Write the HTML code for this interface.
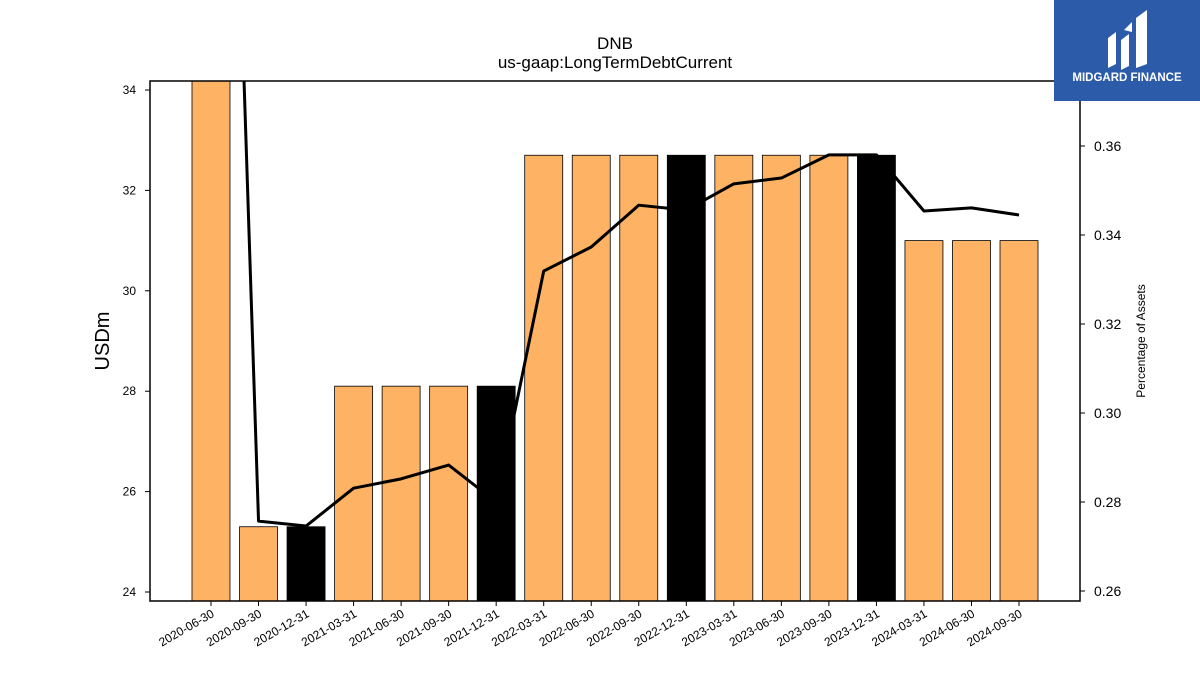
<!DOCTYPE html>
<html><head><meta charset="utf-8"><style>
body{margin:0;background:#fff;font-family:"Liberation Sans","DejaVu Sans",sans-serif;}
#wrap{position:relative;width:1200px;height:675px;overflow:hidden;}
</style></head><body><div id="wrap">
<svg id="chart" width="1200" height="675" xmlns="http://www.w3.org/2000/svg">
<defs><clipPath id="plotclip"><rect x="150" y="81" width="930" height="520"/></clipPath></defs>
<text x="615" y="49" font-size="17" text-anchor="middle">DNB</text>
<text x="615" y="68" font-size="17" text-anchor="middle">us-gaap:LongTermDebtCurrent</text>
<g id="bars" clip-path="url(#plotclip)"></g>
<g id="line" clip-path="url(#plotclip)"></g>
<rect x="150" y="81" width="930" height="520" fill="none" stroke="#000" stroke-width="1.5"/>
<g id="axes"></g>
<text transform="translate(109,341) rotate(-90)" font-size="20" text-anchor="middle">USDm</text>
<text transform="translate(1145,341) rotate(-90)" font-size="12" text-anchor="middle">Percentage of Assets</text>
<g>
<rect x="1054" y="0" width="146" height="101" fill="#2b5ba9"/>
<path d="M1108 68 L1108 38 L1116 32 L1116 64 Z M1121 70 L1121 40 L1129 34 L1129 66 Z M1136 68 L1136 18 L1147 10 L1147 64 Z M1124 30 L1132 22 L1132 32 Z" fill="#fff"/>
<text x="1127" y="81" font-size="11.5" font-weight="bold" fill="#fff" text-anchor="middle">MIDGARD FINANCE</text>
</g>
</svg></div>
<script>
const categories=["2020-06-30","2020-09-30","2020-12-31","2021-03-31","2021-06-30","2021-09-30","2021-12-31","2022-03-31","2022-06-30","2022-09-30","2022-12-31","2023-03-31","2023-06-30","2023-09-30","2023-12-31","2024-03-31","2024-06-30","2024-09-30"];
const debtValues=[35,25.3,25.3,28.1,28.1,28.1,28.1,32.7,32.7,32.7,32.7,32.7,32.7,32.7,32.7,31.0,31.0,31.0];
const pctAssets=[0.6,0.2757,0.2746,0.2831,0.2852,0.2883,0.28,0.3319,0.3373,0.3467,0.3456,0.3515,0.3528,0.358,0.358,0.3454,0.3461,0.3445];
const leftTicks=[24,26,28,30,32,34];
const rightTicks=[0.26,0.28,0.30,0.32,0.34,0.36];
const NS="http://www.w3.org/2000/svg";
function yL(v){return 592-(v-24)*50.2;}
function yR(v){return 591-(v-0.26)*4450;}
function xC(i){return 211+i*47.53;}
function mk(t,a,p){const e=document.createElementNS(NS,t);for(const k in a)e.setAttribute(k,a[k]);p.appendChild(e);return e;}
const bars=document.getElementById('bars'),line=document.getElementById('line'),axes=document.getElementById('axes');
categories.forEach((c,i)=>{
 const yr=c.endsWith('12-31');
 const r=mk('rect',{x:xC(i)-19,y:yL(debtValues[i]),width:38,height:601-yL(debtValues[i]),fill:yr?'#000':'#fdb264',stroke:'#000','stroke-width':0.8},bars);
 
 
 const t=mk('line',{x1:xC(i),x2:xC(i),y1:601,y2:606,stroke:'#000'},axes);
 
 
 const l=mk('text',{transform:`translate(${xC(i)+4},616) rotate(-30)`,'font-size':12,'text-anchor':'end'},axes);
 l.textContent=c;
 
 
});
const pts=pctAssets.map((v,i)=>xC(i)+','+yR(v)).join(' ');
const pl=mk('polyline',{points:pts,fill:'none',stroke:'#000','stroke-width':3,'stroke-linejoin':'round'},line);


leftTicks.forEach(v=>{
 const t=mk('line',{x1:145,x2:150,y1:yL(v),y2:yL(v),stroke:'#000'},axes);
 
 
 const l=mk('text',{x:136,y:yL(v)+4,'font-size':12,'text-anchor':'end'},axes);
 l.textContent=v;
 
 
});
rightTicks.forEach(v=>{
 const t=mk('line',{x1:1080,x2:1085,y1:yR(v),y2:yR(v),stroke:'#000'},axes);
 
 
 const l=mk('text',{x:1094,y:yR(v)+5,'font-size':14},axes);
 l.textContent=v.toFixed(2);
 
 
});
</script></body></html>
